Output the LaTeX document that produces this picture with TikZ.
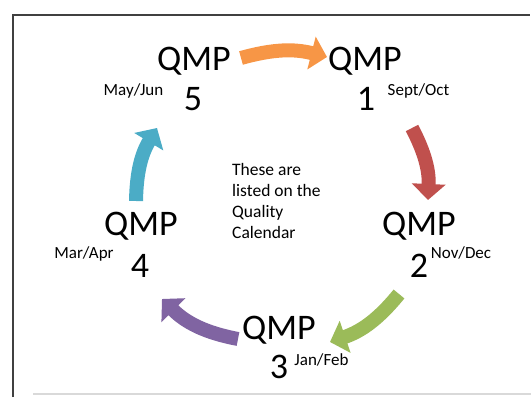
\documentclass[tikz,border=0pt]{standalone}
\usepackage{fontspec}
\setmainfont{Carlito}
\usetikzlibrary{arrows.meta}
\definecolor{cOrange}{HTML}{F79646}
\definecolor{cRed}{HTML}{C0504D}
\definecolor{cGreen}{HTML}{9BBB59}
\definecolor{cPurple}{HTML}{8064A2}
\definecolor{cCyan}{HTML}{4BACC6}
\definecolor{frameGray}{HTML}{404040}
\definecolor{lineGray}{HTML}{D9D9D9}
\begin{document}
\begin{tikzpicture}[x=1pt,y=1pt,
  qmp/.style={inner sep=0pt,anchor=base,font=\fontsize{36}{39}\selectfont},
  digit/.style={inner sep=0pt,anchor=base,font=\fontsize{36}{39}\selectfont},
  month/.style={inner sep=0pt,anchor=base,font=\fontsize{17}{20}\selectfont},
  cyc/.style={line width=14pt,-{Triangle[width=33pt,length=16pt]}}]
\useasboundingbox (0,0) rectangle (531,397);
% frame
\draw[frameGray,line width=1.5pt] (13,0) |- (530,382);
\draw[lineGray,line width=1.5pt] (33,3) -- (531,3);
% labels
\node[qmp] (q5) at (194,326) {QMP};
\node[digit] (n5) at (193,286) {5};
\node[month] (m5) at (133.5,301) {May/Jun};
\node[qmp] (q1) at (365,326) {QMP};
\node[digit] (n1) at (366,286) {1};
\node[month] (m1) at (418.5,301) {Sept/Oct};
\node[qmp] (q2) at (419,161) {QMP};
\node[digit] (n2) at (419,119) {2};
\node[month] (m2) at (461,138) {Nov/Dec};
\node[qmp] (q3) at (279,58) {QMP};
\node[digit] (n3) at (279,19) {3};
\node[month] (m3) at (321.5,32) {Jan/Feb};
\node[qmp] (q4) at (141,161) {QMP};
\node[digit] (n4) at (140,119) {4};
\node[month] (m4) at (84,138) {Mar/Apr};
\node[inner sep=0pt,anchor=base west,align=left,font=\fontsize{17.5}{21.3}\selectfont] (note) at (232,158) {These are\\listed on the\\Quality\\Calendar};
% arrow end points
\coordinate (oA) at (241,339);
\coordinate (oB) at (327,340);
\coordinate (rA) at (412,269);
\coordinate (rB) at (428,197);
\coordinate (gA) at (399,103);
\coordinate (gB) at (330,55);
\coordinate (pA) at (238,58);
\coordinate (pB) at (162,98);
\coordinate (cA) at (136,196);
\coordinate (cB) at (157,269);
% arrows
\draw[cyc,cOrange] (oA) to[bend left=15] (oB);
\draw[cyc,cRed] (rA) to[bend left=15] (rB);
\draw[cyc,cGreen] (gA) to[bend left=16] (gB);
\draw[cyc,cPurple] (pA) to[bend left=17] (pB);
\draw[cyc,cCyan] (cA) to[bend left=15] (cB);
\end{tikzpicture}
\end{document}
